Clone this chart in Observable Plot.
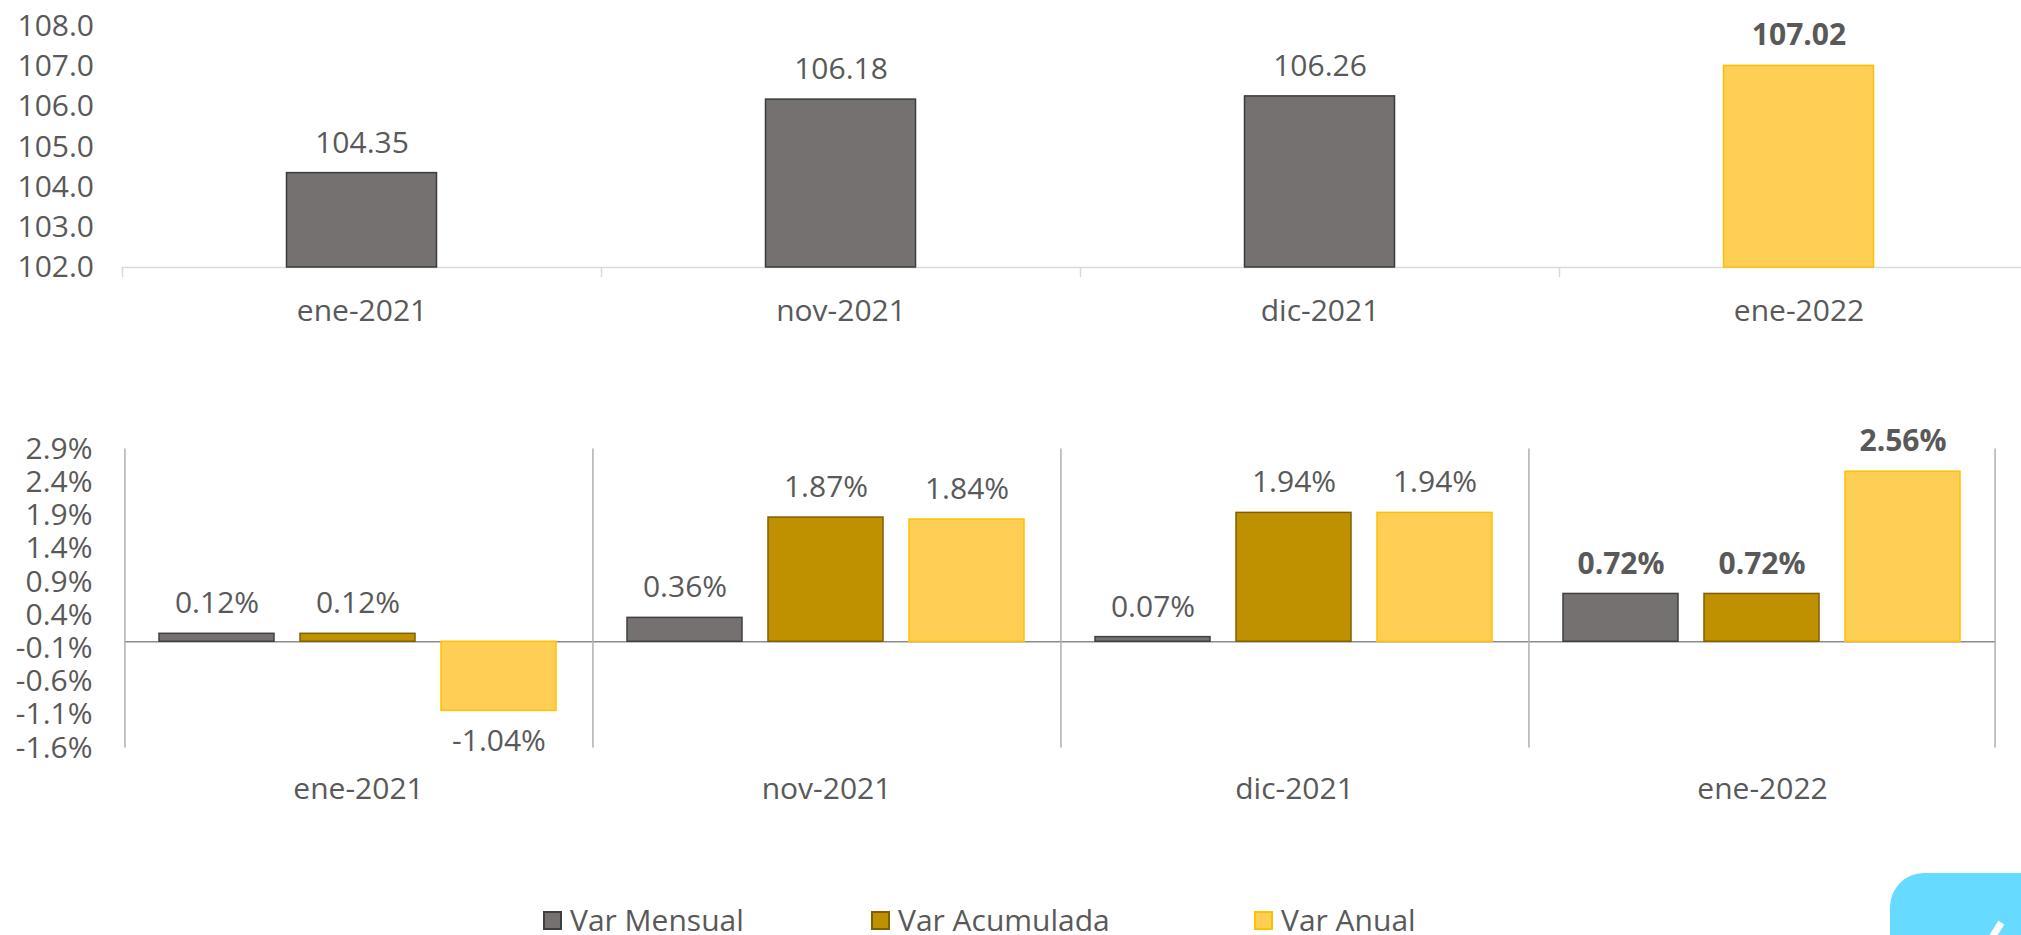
<!DOCTYPE html>
<html>
<head>
<meta charset="utf-8">
<script src="https://cdn.jsdelivr.net/npm/d3@7"></script>
<script src="https://cdn.jsdelivr.net/npm/@observablehq/plot@0.6"></script>
<style>
  html, body { margin: 0; padding: 0; background: #fff; overflow: hidden; width: 2021px; height: 935px; }
  body { position: relative; font-family: "Open Sans", sans-serif; color: #595959; }
  #top, #bottom { position: absolute; left: 0; }
  #top { top: 0; }
  #bottom { top: 360px; }
  #top svg, #bottom svg { max-width: none !important; }
  .legend { position: absolute; top: 905px; left: 0; font-size: 30px; line-height: 30px; color: #595959; }
  .legend .item { position: absolute; white-space: nowrap; display: flex; align-items: center; height: 30px; }
  .legend .sw { width: 15px; height: 15px; border: 2px solid; margin-right: 8px; }
  .deco { position: absolute; left: 1890px; top: 873px; width: 200px; height: 100px; background: #66DBFF; border-radius: 34px 0 0 0; }
  .deco-line { position: absolute; left: 1992px; top: 921px; width: 7px; height: 22px; background: #fff; transform: rotate(32deg); }
</style>
</head>
<body>
<div id="top"></div>
<div id="bottom"></div>
<div class="legend" id="legend"></div>
<div class="deco"></div>
<div class="deco-line"></div>
<script>
// ---- data ----
const categories = ["ene-2021", "nov-2021", "dic-2021", "ene-2022"];
const indexValues = [104.35, 106.18, 106.26, 107.02];
const series = ["Var Mensual", "Var Acumulada", "Var Anual"];
const varMensual = [0.12, 0.36, 0.07, 0.72];
const varAcumulada = [0.12, 1.87, 1.94, 0.72];
const varAnual = [-1.04, 1.84, 1.94, 2.56];
const topTicks = [102, 103, 104, 105, 106, 107, 108];
const bottomTicks = [-1.6, -1.1, -0.6, -0.1, 0.4, 0.9, 1.4, 1.9, 2.4, 2.9];
const highlight = "ene-2022";

// ---- styles ----
const FONT = "Open Sans, sans-serif";
const TEXT = "#595959";
const seriesFill = {"Var Mensual": "#767171", "Var Acumulada": "#BF9000", "Var Anual": "#FFCE54"};
const seriesStroke = {"Var Mensual": "#404040", "Var Acumulada": "#7F6000", "Var Anual": "#FFC000"};

// ---- top chart ----
const topData = categories.map((c, i) => ({cat: c, value: indexValues[i]}));
const tW = 2040, tML = 121.5, tMR = 2.5;
const tBW = (tW - tML - tMR) / categories.length;
const tBar = 150;
const tInset = (tBW - tBar) / 2;
const tMT = 26, tMB = 68, tH = 335;

const topPlot = Plot.plot({
  width: tW, height: tH,
  marginLeft: tML, marginRight: tMR, marginTop: tMT, marginBottom: tMB,
  style: {fontFamily: FONT, fontSize: "30px", color: TEXT, background: "transparent", maxWidth: "none"},
  x: {domain: categories, padding: 0, tickSize: 0, tickPadding: 32, label: null},
  y: {domain: [102, 108], ticks: topTicks, tickFormat: d => d.toFixed(1), tickSize: 0, tickPadding: 28, label: null},
  marks: [
    Plot.ruleY([102], {stroke: "#d9d9d9", strokeWidth: 1.5}),
    Plot.ruleX(categories, {x: d => d, dx: -tBW / 2, stroke: "#d9d9d9", strokeWidth: 1.5, insetTop: tH - tMT - tMB, insetBottom: -10}),
    Plot.barY(topData.filter(d => d.cat !== highlight), {x: "cat", y1: 102, y2: "value", fill: "#767171", stroke: "#3b3b3b", strokeWidth: 1.5, insetLeft: tInset, insetRight: tInset}),
    Plot.barY(topData.filter(d => d.cat === highlight), {x: "cat", y1: 102, y2: "value", fill: "#FFCE54", stroke: "#FFC000", strokeWidth: 1.5, insetLeft: tInset, insetRight: tInset}),
    Plot.text(topData.filter(d => d.cat !== highlight), {x: "cat", y: "value", text: d => d.value.toFixed(2), dy: -30, fill: TEXT}),
    Plot.text(topData.filter(d => d.cat === highlight), {x: "cat", y: "value", text: d => d.value.toFixed(2), dy: -30, fill: TEXT, fontWeight: "bold"})
  ]
});
document.getElementById("top").appendChild(topPlot);

// ---- bottom chart ----
const seriesValues = [varMensual, varAcumulada, varAnual];
const bottomData = [];
categories.forEach((c, i) => series.forEach((s, j) => bottomData.push({cat: c, series: s, value: seriesValues[j][i]})));

const bW = 2021, bML = 124, bMR = 25, bMT = 88.6, bMB = 82.4, bH = 470;
const facetW = (bW - bML - bMR) / categories.length;
const pIn = 0.183, pOut = 0.24;
const step = facetW / (series.length - pIn + 2 * pOut);
const sepDx = step * (1 - pIn) / 2 + step * pOut;
const fmtPct = d => d.value.toFixed(2) + "%";

const marks = [
  Plot.ruleY([0], {stroke: "#8c8c8c", strokeWidth: 1.5}),
  Plot.ruleX(categories, {fx: d => d, x: () => series[0], dx: -sepDx, stroke: "#b0b0b0", strokeWidth: 1.5}),
  Plot.ruleX([categories[categories.length - 1]], {fx: d => d, x: () => series[series.length - 1], dx: sepDx, stroke: "#b0b0b0", strokeWidth: 1.5})
];
series.forEach(s => {
  marks.push(Plot.barY(bottomData.filter(d => d.series === s), {fx: "cat", x: "series", y: "value", fill: seriesFill[s], stroke: seriesStroke[s], strokeWidth: 1.5}));
});
const norm = bottomData.filter(d => d.cat !== highlight);
const bold = bottomData.filter(d => d.cat === highlight);
marks.push(
  Plot.text(norm.filter(d => d.value >= 0), {fx: "cat", x: "series", y: "value", text: fmtPct, dy: -30, fill: TEXT}),
  Plot.text(norm.filter(d => d.value < 0), {fx: "cat", x: "series", y: "value", text: fmtPct, dy: 30, fill: TEXT}),
  Plot.text(bold.filter(d => d.value >= 0), {fx: "cat", x: "series", y: "value", text: fmtPct, dy: -30, fill: TEXT, fontWeight: "bold"}),
  Plot.text(bold.filter(d => d.value < 0), {fx: "cat", x: "series", y: "value", text: fmtPct, dy: 30, fill: TEXT, fontWeight: "bold"})
);

const bottomPlot = Plot.plot({
  width: bW, height: bH,
  marginLeft: bML, marginRight: bMR, marginTop: bMT, marginBottom: bMB,
  style: {fontFamily: FONT, fontSize: "30px", color: TEXT, background: "transparent", maxWidth: "none"},
  fx: {domain: categories, padding: 0, axis: "bottom", tickSize: 0, tickPadding: 30, label: null},
  x: {domain: series, paddingInner: pIn, paddingOuter: pOut, axis: null, label: null},
  y: {domain: [-1.6, 2.9], ticks: bottomTicks, tickFormat: d => d.toFixed(1) + "%", tickSize: 0, tickPadding: 32, label: null},
  marks
});
document.getElementById("bottom").appendChild(bottomPlot);

// ---- legend ----
const legendX = [543, 871, 1254];
const legend = document.getElementById("legend");
series.forEach((s, i) => {
  const item = document.createElement("div");
  item.className = "item";
  item.style.left = legendX[i] + "px";
  const sw = document.createElement("span");
  sw.className = "sw";
  sw.style.background = seriesFill[s];
  sw.style.borderColor = seriesStroke[s];
  const lab = document.createElement("span");
  lab.textContent = s;
  item.appendChild(sw);
  item.appendChild(lab);
  legend.appendChild(item);
});
</script>
</body>
</html>
